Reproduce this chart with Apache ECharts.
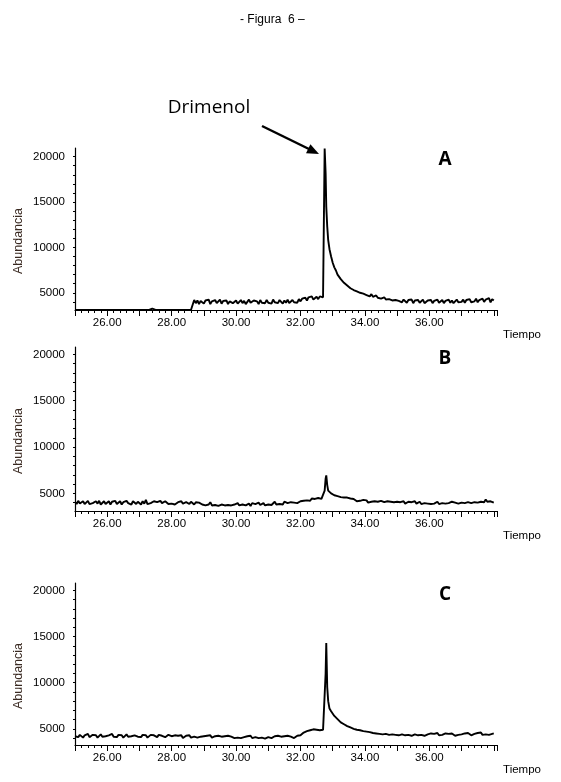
<!DOCTYPE html>
<html>
<head>
<meta charset="utf-8">
<script src="https://cdn.jsdelivr.net/npm/echarts@6/dist/echarts.min.js"></script>
<style>
html, body { margin: 0; padding: 0; background: #fff; }
#chart { width: 561px; height: 782px; }
</style>
</head>
<body>
<div id="chart"></div>
<script>
// tiempo (min), shared by the three chromatograms
let times = [
	25.00, 25.05, 25.10, 25.15, 25.20, 25.25, 25.30, 25.35, 25.40, 25.45, 25.50, 25.55, 25.60, 25.65, 25.70, 25.75, 25.80, 25.85, 25.90, 25.95,
	26.00, 26.05, 26.10, 26.15, 26.20, 26.25, 26.30, 26.35, 26.40, 26.45, 26.50, 26.55, 26.60, 26.65, 26.70, 26.75, 26.80, 26.85, 26.90, 26.95,
	27.00, 27.05, 27.10, 27.15, 27.20, 27.25, 27.30, 27.35, 27.40, 27.45, 27.50, 27.55, 27.60, 27.65, 27.70, 27.75, 27.80, 27.85, 27.90, 27.95,
	28.00, 28.05, 28.10, 28.15, 28.20, 28.25, 28.30, 28.35, 28.40, 28.45, 28.50, 28.55, 28.60, 28.65, 28.70, 28.75, 28.80, 28.85, 28.90, 28.95,
	29.00, 29.05, 29.10, 29.15, 29.20, 29.25, 29.30, 29.35, 29.40, 29.45, 29.50, 29.55, 29.60, 29.65, 29.70, 29.75, 29.80, 29.85, 29.90, 29.95,
	30.00, 30.05, 30.10, 30.15, 30.20, 30.25, 30.30, 30.35, 30.40, 30.45, 30.50, 30.55, 30.60, 30.65, 30.70, 30.75, 30.80, 30.85, 30.90, 30.95,
	31.00, 31.05, 31.10, 31.15, 31.20, 31.25, 31.30, 31.35, 31.40, 31.45, 31.50, 31.55, 31.60, 31.65, 31.70, 31.75, 31.80, 31.85, 31.90, 31.95,
	32.00, 32.05, 32.10, 32.15, 32.20, 32.25, 32.30, 32.35, 32.40, 32.45, 32.50, 32.55, 32.60, 32.65, 32.70, 32.75, 32.78, 32.80, 32.83, 32.86, 32.90, 32.95,
	33.00, 33.05, 33.10, 33.15, 33.20, 33.25, 33.30, 33.35, 33.40, 33.45, 33.50, 33.55, 33.60, 33.65, 33.70, 33.75, 33.80, 33.85, 33.90, 33.95,
	34.00, 34.05, 34.10, 34.15, 34.20, 34.25, 34.30, 34.35, 34.40, 34.45, 34.50, 34.55, 34.60, 34.65, 34.70, 34.75, 34.80, 34.85, 34.90, 34.95,
	35.00, 35.05, 35.10, 35.15, 35.20, 35.25, 35.30, 35.35, 35.40, 35.45, 35.50, 35.55, 35.60, 35.65, 35.70, 35.75, 35.80, 35.85, 35.90, 35.95,
	36.00, 36.05, 36.10, 36.15, 36.20, 36.25, 36.30, 36.35, 36.40, 36.45, 36.50, 36.55, 36.60, 36.65, 36.70, 36.75, 36.80, 36.85, 36.90, 36.95,
	37.00, 37.05, 37.10, 37.15, 37.20, 37.25, 37.30, 37.35, 37.40, 37.45, 37.50, 37.55, 37.60, 37.65, 37.70, 37.75, 37.80, 37.85, 37.90, 37.95,
	38.00
];

let abundA = [
	3100, 3100, 3100, 3100, 3100, 3100, 3100, 3100, 3100, 3100, 3100, 3100, 3100, 3100, 3100, 3100, 3100, 3100, 3100, 3100,
	3100, 3100, 3100, 3100, 3100, 3100, 3100, 3100, 3100, 3100, 3100, 3100, 3100, 3100, 3100, 3100, 3100, 3100, 3100, 3100,
	3100, 3100, 3100, 3100, 3100, 3100, 3100, 3100, 3250, 3100, 3100, 3100, 3100, 3100, 3100, 3100, 3100, 3100, 3100, 3100,
	3100, 3100, 3100, 3100, 3100, 3100, 3100, 3100, 3100, 3100, 3100, 3100, 3100, 3100, 4200, 3850, 4150, 3750, 4100, 3900,
	3800, 4150, 3950, 4250, 3750, 4050, 3900, 4200, 3850, 3950, 4250, 3800, 4100, 3900, 4150, 3750, 4050, 4200, 3850, 4000,
	4150, 3800, 3950, 4200, 3850, 4100, 3750, 4000, 4250, 3900, 3800, 4150, 3950, 4050, 3750, 4200, 3900, 4100, 3850, 4200,
	3900, 4050, 3800, 4250, 3950, 4100, 3850, 4200, 4000, 3800, 4150, 3900, 4250, 3850, 4050, 4200, 3950, 4100, 3900, 4300,
	4050, 4350, 4200, 4450, 4150, 4500, 4300, 4600, 4250, 4450, 4550, 4300, 4600, 4400, 4500, 20900, 18200, 14500, 12300, 10800, 9800, 9000,
	8300, 7800, 7450, 7000, 6850, 6500, 6500, 6100, 6100, 5800, 5800, 5500, 5600, 5300, 5400, 5150, 5250, 5000, 5150, 4900,
	4950, 4750, 4850, 4600, 4850, 4550, 4650, 4700, 4450, 4600, 4350, 4550, 4500, 4250, 4450, 4300, 4500, 4150, 4350, 4200,
	4350, 4100, 4300, 3950, 4250, 4150, 3900, 4200, 4050, 4250, 3850, 4150, 4000, 4200, 3900, 4100, 4250, 3850, 4050, 4150,
	3950, 4200, 3850, 4100, 4000, 4250, 3900, 3950, 4200, 3850, 4100, 4000, 4250, 3900, 4150, 3850, 4050, 4250, 3950, 4100,
	4000, 4250, 3900, 4200, 4050, 4300, 3950, 4150, 4050, 4350, 3950, 4200, 4100, 4350, 4000, 4250, 4050, 4400, 3950, 4300,
	4150
];

let abundB = [
	4100, 3850, 4200, 3900, 3800, 4150, 3850, 4000, 4200, 3850, 4050, 3950, 3750, 4150, 3900, 4200, 3800, 4000, 4150, 3850,
	3950, 4150, 3800, 4100, 4000, 4200, 3850, 3950, 4150, 3800, 4050, 3900, 4200, 3950, 4000, 3800, 4150, 3950, 3850, 4100,
	4000, 3800, 4150, 3900, 4300, 3850, 4050, 3950, 3800, 4150, 3950, 4050, 3850, 4200, 3950, 3800, 4150, 4000, 3850, 4050,
	3900, 4100, 3800, 4000, 4050, 3850, 4150, 3900, 3800, 4050, 3950, 3850, 4100, 3950, 3800, 4050, 3850, 4000, 4100, 3800,
	3950, 3700, 3900, 3800, 4050, 3700, 3900, 3750, 3950, 3650, 3850, 3800, 4000, 3700, 3850, 3750, 3950, 3700, 3850, 3800,
	3750, 3950, 3700, 3850, 3800, 4000, 3700, 3800, 3900, 3650, 3950, 3750, 3850, 3700, 4000, 3750, 3800, 3950, 3700, 3850,
	3800, 3950, 3750, 3900, 4100, 3800, 3950, 3850, 4000, 3800, 4100, 3900, 3950, 3850, 4050, 3900, 4000, 4100, 3950, 4050,
	4150, 4300, 4200, 4400, 4250, 4350, 4200, 4450, 4300, 4400, 4250, 4500, 4350, 4400, 4350, 5300, 6600, 6950, 5900, 5300, 5150, 5000,
	4950, 4800, 4900, 4700, 4750, 4600, 4650, 4550, 4400, 4550, 4350, 4450, 4250, 4400, 4300, 4150, 4350, 4200, 4100, 4300,
	4100, 4250, 4000, 4200, 4100, 3950, 4150, 4000, 4100, 3900, 4200, 4000, 4050, 3900, 4150, 3950, 4100, 3900, 4050, 3950,
	4100, 3900, 4050, 3950, 4150, 3900, 4000, 4100, 3900, 4050, 3950, 4150, 3900, 4000, 4100, 3850, 4050, 3950, 4100, 3900,
	4000, 3850, 4050, 3900, 4000, 4100, 3850, 4000, 3950, 4100, 3900, 4050, 3950, 3850, 4100, 3950, 4000, 4100, 3900, 4050,
	4000, 4150, 3950, 4100, 4050, 4200, 3950, 4150, 4050, 4250, 4000, 4200, 4100, 4300, 4050, 4350, 4100, 4300, 4150, 4050,
	4000
];

let abundC = [
	4200, 4400, 4100, 4350, 4250, 4050, 4300, 4200, 4450, 4100, 4250, 4350, 4150, 4300, 4050, 4250, 4400, 4150, 4300, 4200,
	4100, 4300, 4250, 4450, 4150, 4250, 4100, 4350, 4200, 4300, 4050, 4250, 4400, 4150, 4300, 4200, 4050, 4300, 4350, 4150,
	4250, 4100, 4350, 4200, 4300, 4050, 4250, 4350, 4150, 4300, 4200, 4100, 4350, 4150, 4250, 4300, 4100, 4200, 4350, 4150,
	4200, 4050, 4300, 4150, 4250, 4100, 4300, 4000, 4200, 4250, 4100, 4300, 4050, 4200, 4150, 4300, 4050, 4250, 4150, 4100,
	4200, 4000, 4250, 4100, 4300, 4050, 4150, 4200, 4000, 4250, 4100, 4150, 3950, 4200, 4100, 4250, 4050, 4150, 4200, 4000,
	4150, 4050, 4250, 4000, 4200, 4100, 3950, 4200, 4050, 4250, 4000, 4150, 4100, 4250, 4000, 4150, 4050, 4200, 3950, 4150,
	4100, 4250, 4000, 4150, 4200, 4050, 4250, 4100, 4150, 4000, 4200, 4100, 4250, 4050, 4150, 4200, 4000, 4150, 4250, 4100,
	4300, 4450, 4600, 4550, 4750, 4650, 4850, 4750, 4950, 4800, 4900, 5000, 4850, 4950, 4900, 5100, 11000, 14300, 9500, 8000, 7200, 6900,
	6700, 6400, 6200, 6050, 5900, 5700, 5750, 5500, 5550, 5300, 5400, 5150, 5250, 5000, 5100, 4900, 5000, 4850, 4950, 4750,
	4900, 4700, 4800, 4650, 4750, 4550, 4700, 4500, 4650, 4450, 4650, 4400, 4600, 4450, 4550, 4350, 4550, 4400, 4500, 4350,
	4550, 4300, 4500, 4400, 4550, 4300, 4450, 4350, 4500, 4250, 4450, 4400, 4500, 4300, 4450, 4350, 4500, 4250, 4450, 4400,
	4350, 4500, 4300, 4450, 4400, 4550, 4300, 4450, 4350, 4250, 4500, 4350, 4450, 4300, 4500, 4400, 4250, 4450, 4350, 4500,
	4400, 4300, 4500, 4350, 4550, 4400, 4300, 4500, 4450, 4350, 4550, 4400, 4600, 4350, 4500, 4400, 4600, 4350, 4550, 4450,
	4500
];

let timeLabels = [26, 28, 30, 32, 34, 36];
let abundLabels = [5000, 10000, 15000, 20000];
let abundTicks = [4000, 5000, 6000, 7000, 8000, 9000, 10000, 11000, 12000, 13000, 14000, 15000, 16000, 17000, 18000, 19000, 20000];
let panelNames = ['A', 'B', 'C'];

let font = "'Liberation Sans', Arial, sans-serif";
let chart = echarts.init(document.getElementById('chart'));

// pixel layout of the three panels: grid top / height / y range
let panels = [
	{ top: 148, height: 162, min: 3100, max: 20950, data: abundA },
	{ top: 347, height: 164, min: 3100, max: 20800, data: abundB },
	{ top: 583, height: 162, min: 3250, max: 20800, data: abundC }
];

let grids = [], xAxes = [], yAxes = [], series = [], graphics = [];

panels.forEach(function(p, i) {
	grids.push({ left: 75, right: 64, top: p.top, height: p.height });
	xAxes.push({
		type: 'value',
		gridIndex: i,
		min: 25,
		max: 38.1,
		interval: 1,
		splitLine: { show: false },
		axisLine: { onZero: false, lineStyle: { color: '#000', width: 1.2 } },
		axisTick: { length: 6, lineStyle: { color: '#000' } },
		minorTick: { show: true, splitNumber: 5, length: 3, lineStyle: { color: '#000' } },
		axisLabel: {
			customValues: timeLabels,
			formatter: function(v) { return v.toFixed(2); },
			color: '#000',
			fontFamily: font,
			fontSize: 11.5,
			margin: 7
		}
	});
	yAxes.push({
		type: 'value',
		gridIndex: i,
		min: p.min,
		max: p.max,
		splitLine: { show: false },
		axisLine: { show: true, lineStyle: { color: '#000', width: 1.2 } },
		axisTick: { show: true, customValues: abundTicks, length: 2, lineStyle: { color: '#000' } },
		axisLabel: {
			customValues: abundLabels,
			formatter: function(v) { return String(v); },
			color: '#000',
			fontFamily: font,
			fontSize: 11.5,
			margin: 10
		}
	});
	series.push({
		type: 'line',
		xAxisIndex: i,
		yAxisIndex: i,
		data: times.map(function(t, k) { return [t, p.data[k]]; }),
		showSymbol: false,
		animation: false,
		lineStyle: { color: '#000', width: 1.9 }
	});
	graphics.push({
		type: 'text',
		x: 19,
		y: p.top + p.height / 2 + 12,
		rotation: Math.PI / 2,
		style: { text: 'Abundancia', fill: '#3a2a22', font: '12.5px ' + font, align: 'center', verticalAlign: 'middle' }
	});
	graphics.push({
		type: 'text',
		x: 522,
		y: p.top + p.height + 25,
		style: { text: 'Tiempo', fill: '#000', font: '11.5px ' + font, align: 'center', verticalAlign: 'middle' }
	});
	graphics.push({
		type: 'text',
		x: 445,
		y: p.top + 12,
		style: { text: panelNames[i], fill: '#000', font: 'bold 19px "Open Sans", sans-serif', align: 'center', verticalAlign: 'middle' }
	});
});

// Drimenol annotation and arrow
graphics.push({
	type: 'text',
	x: 209,
	y: 108,
	style: { text: 'Drimenol', fill: '#000', font: '19px "Open Sans", sans-serif', align: 'center', verticalAlign: 'middle' }
});
graphics.push({
	type: 'line',
	shape: { x1: 262, y1: 126, x2: 310, y2: 149.5 },
	style: { stroke: '#000', lineWidth: 2.5 }
});
graphics.push({
	type: 'polygon',
	shape: { points: [[319, 154], [306, 153.3], [310.4, 144.3]] },
	style: { fill: '#000' }
});

option = {
	backgroundColor: '#fff',
	animation: false,
	title: {
		text: '- Figura  6 \u2013',
		left: 235,
		top: 9,
		textStyle: { fontFamily: font, fontSize: 12, fontWeight: 'normal', color: '#000' }
	},
	grid: grids,
	xAxis: xAxes,
	yAxis: yAxes,
	series: series,
	graphic: graphics
};

chart.setOption(option, true);
</script>
</body>
</html>
